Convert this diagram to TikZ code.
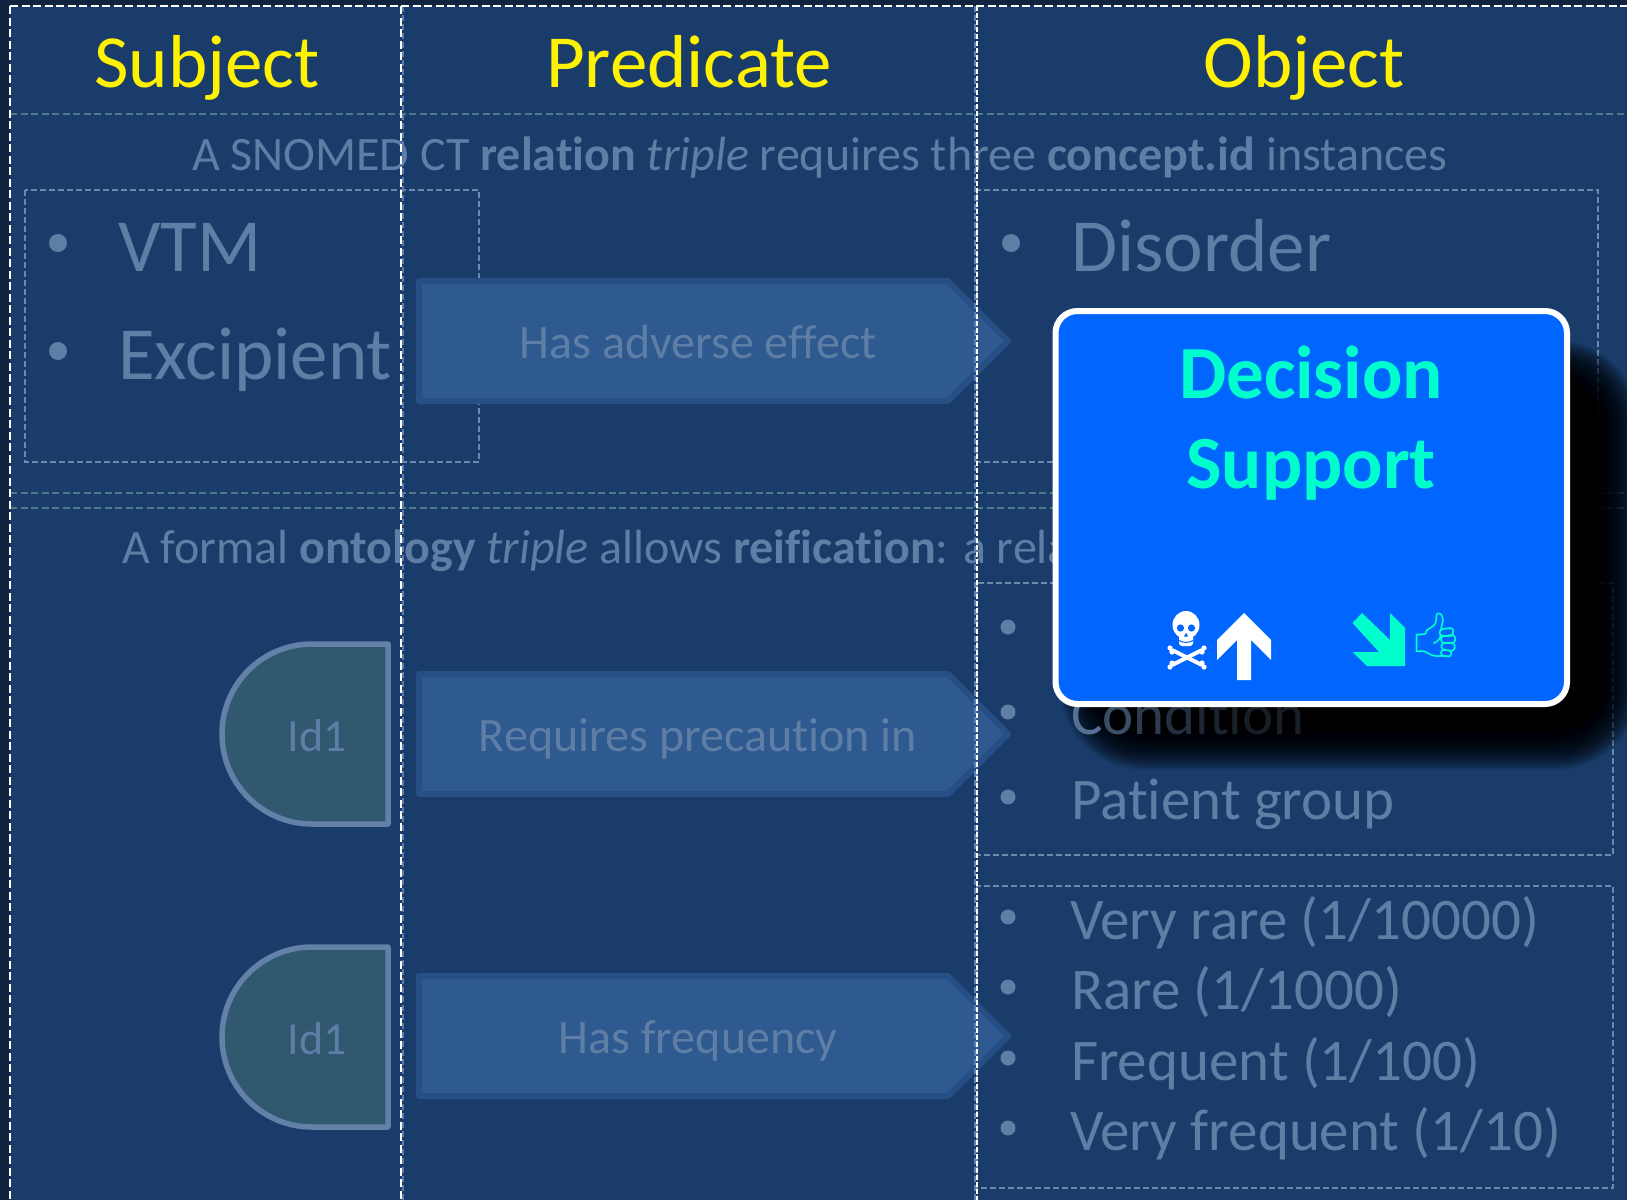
\documentclass[tikz,border=0pt]{standalone}
\usepackage{fontspec}
\setmainfont[Ligatures=NoCommon]{Carlito}
\newfontfamily\emojifont{Noto Emoji}
\newcommand{\fs}[1]{\fontsize{#1}{#1}\selectfont}
\newcommand{\shade}[2]{{\color{faded!#1!black}#2}}
\definecolor{pagedark}{HTML}{10233F}
\definecolor{mainbg}{HTML}{1A3C6A}
\definecolor{faded}{HTML}{5F7EA6}
\definecolor{dashbox}{HTML}{6B8AAE}
\definecolor{dashrow}{HTML}{4E7A8C}
\definecolor{dashcol}{HTML}{5A7FB0}
\definecolor{arrowfill}{HTML}{2E5A90}
\definecolor{arrowline}{HTML}{284F85}
\definecolor{dfill}{HTML}{30586E}
\definecolor{dline}{HTML}{6380A8}
\definecolor{popfill}{HTML}{0066FF}
\definecolor{aqua}{HTML}{00FFCC}
\tikzset{
  lab/.style={inner sep=0pt,outer sep=0pt,anchor=base west},
  mid/.style={inner sep=0pt,outer sep=0pt,anchor=base},
  title/.style={mid,text=yellow,font=\fs{75}},
  fadedtext/.style={lab,text=faded},
  dot/.style={fill=faded,circle,inner sep=0pt},
  whitedash/.style={draw=white,line width=2.5pt,dash pattern=on 8pt off 3.5pt},
  whitefine/.style={draw=white,line width=2pt,dash pattern=on 5pt off 2pt},
  rowdash/.style={draw=dashrow,line width=2pt,dash pattern=on 7pt off 3.5pt},
  coldash/.style={draw=dashcol,line width=2pt,dash pattern=on 6pt off 3pt},
  boxdash/.style={draw=dashbox,line width=1.6pt,dash pattern=on 6pt off 3pt},
  relarrow/.style={fill=arrowfill,draw=arrowline,line width=6pt,line join=round},
  idshape/.style={fill=dfill,draw=dline,line width=5.5pt,line join=round},
  bone/.style={draw=white,line width=4pt},
}
\begin{document}
\begin{tikzpicture}[x=1pt,y=-1pt]
\useasboundingbox (0,0) rectangle (1627,1200);
\fill[pagedark] (0,0) rectangle (1627,1200);
\fill[mainbg] (10,6) rectangle (1627,1200);
% rows and dashed boxes
\draw[rowdash] (10,114) -- (1627,114);
\draw[rowdash] (10,493) -- (1627,493);
\draw[rowdash] (10,508) -- (1627,508);
\draw[boxdash] (25,190) rectangle (479,462);
\draw[boxdash] (977,190) rectangle (1598,462);
\draw[boxdash] (977,583) rectangle (1613,855);
\draw[boxdash] (977,886) rectangle (1613,1188);
% titles
\node[title] (subj) at (207,87) {Subject};
\node[title] (pred) at (689,87) {Predicate};
\node[title] (obj) at (1304,87) {Object};
% sentences
\node[fadedtext,font=\fs{48}] (s1) at (192,170) {A SNOMED CT \textbf{relation} \textit{triple} requires three \textbf{concept.id} instances};
\node[fadedtext,font=\fs{48}] (s2) at (122,563) {A formal \textbf{ontology} \textit{triple} allows \textbf{reification}: a rela};
% subject list
\node[dot,minimum size=18pt] (b1) at (58,243) {};
\node[dot,minimum size=18pt] (b2) at (58,351) {};
\node[fadedtext,font=\fs{75}] (vtm) at (118,271) {VTM};
\node[fadedtext,font=\fs{75}] (exc) at (118,379) {Excipient};
% object lists
\node[dot,minimum size=18pt] (b3) at (1011,243) {};
\node[fadedtext,font=\fs{75}] (dis) at (1071,271) {Disorder};
\foreach \n/\y in {b4/627,b5/712,b6/797,b7/917,b8/987,b9/1058,b10/1128}
  \node[dot,minimum size=15pt] (\n) at (1008,\y) {};
\node[fadedtext,font=\fs{59}] (pat) at (1071,819) {Patient group};
\node[fadedtext,font=\fs{59}] (l1) at (1070,939) {Very rare (1/10000)};
\node[fadedtext,font=\fs{59}] (l2) at (1071,1009) {Rare (1/1000)};
\node[fadedtext,font=\fs{59}] (l3) at (1071,1080) {Frequent (1/100)};
\node[fadedtext,font=\fs{59}] (l4) at (1070,1150) {Very frequent (1/10)};
% predicate arrows
\foreach \c/\t/\nm in {341/Has adverse effect/a1,734/Requires precaution in/a2,1036/Has frequency/a3}{
  \draw[relarrow] (419,\c-60) -- (948,\c-60) -- (1008,\c) -- (948,\c+60) -- (419,\c+60) -- cycle;
  \node[mid,text=faded,font=\fs{48}] (\nm) at (698,\c+17) {\t};
}
% subject shapes
\foreach \c/\nm in {734/d1,1037/d2}{
  \draw[idshape] (388,\c-90) -- (388,\c+90) -- (312,\c+90) arc[start angle=90,end angle=270,radius=90] -- cycle;
  \node[mid,text=faded,font=\fs{46}] (\nm) at (317,\c+17) {Id1};
}
% column dashes
\draw[coldash] (403,6) -- (403,1200);
\draw[coldash] (975,6) -- (975,1200);
\draw[whitedash] (10,6) -- (1627,6);
\draw[whitedash] (10,6) -- (10,1200);
\draw[whitedash] (401,6) -- (401,1200);
\draw[whitefine] (977,6) -- (977,1200);
% soft shadow
\foreach \i in {-40,-39,...,40}
  \fill[black,opacity=.055,rounded corners={44+\i}] ({1100-\i},{380-\i}) rectangle ({1600+\i},{730+\i});
\node[lab,font=\fs{59}] (cond) at (1071,734) {\shade{90}{C}\shade{62}{o}\shade{48}{n}\shade{38}{d}\shade{30}{i}\shade{28}{t}\shade{26}{i}\shade{24}{o}\shade{24}{n}};
% pop-up
\draw[draw=white,fill=popfill,line width=6pt,rounded corners=22pt] (1055.5,311) rectangle (1567,704);
\node[mid,text=aqua,font=\fs{75}\bfseries] (dec) at (1311,398) {Decision};
\node[mid,text=aqua,font=\fs{75}\bfseries] (sup) at (1311,488) {Support};
% skull and crossbones
\fill[white] (1186,625) ellipse [x radius=13.5,y radius=14];
\fill[white,rounded corners=3pt] (1179,632) rectangle (1193,646);
\fill[popfill] (1180.5,628) circle (3.6) (1191.5,628) circle (3.6);
\fill[popfill] (1186,632.5) -- (1188,636.5) -- (1184,636.5) -- cycle;
\draw[popfill,line width=1pt] (1179,640.5) .. controls (1183,643) and (1189,643) .. (1193,640.5);
\draw[bone] (1172,650) -- (1202,665);
\draw[bone] (1202,650) -- (1172,665);
\fill[white] (1170,648) circle (2.6) (1172,652) circle (2.6) (1204,648) circle (2.6) (1202,652) circle (2.6)
             (1170,667) circle (2.6) (1172,663) circle (2.6) (1204,667) circle (2.6) (1202,663) circle (2.6);
\fill[white] (1244,613) -- (1271,640) -- (1271,660) -- (1251,640) -- (1251,680) -- (1237,680) -- (1237,640) -- (1217,660) -- (1217,640) -- cycle;
\fill[aqua] (1352.5,623) -- (1362,613) -- (1390,640) -- (1390,613) -- (1405,628) -- (1405,666) -- (1367,666) -- (1352.5,652) -- (1379,652) -- cycle;
\node[inner sep=0pt,text=aqua,font=\emojifont\fs{44}] (thumb) at (1436,635) {👍};
\end{tikzpicture}
\end{document}
